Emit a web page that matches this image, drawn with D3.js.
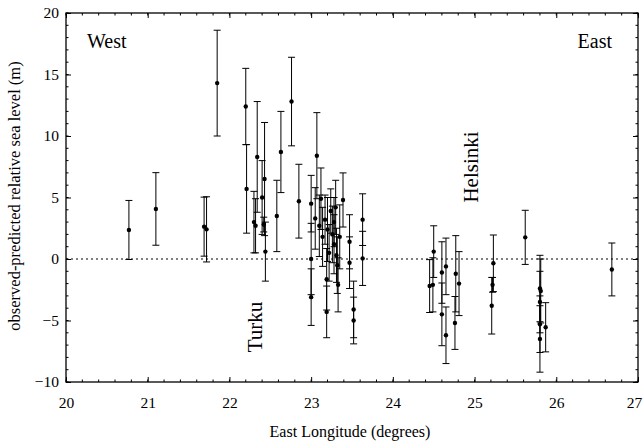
<!DOCTYPE html>
<html>
<head>
<meta charset="utf-8">
<script src="https://cdn.jsdelivr.net/npm/d3@7"></script>
<style>
    body { margin: 0; background: #fff; }
    text { font-family: 'Liberation Serif', 'Times New Roman', serif; fill: #000; }
</style>
</head>
<body>
<svg width="643" height="445"></svg>
<script>
// station longitude (deg E), residual (m), half error bar (m)
var lon = [20.77, 21.1, 21.69, 21.72, 21.85,
    22.2, 22.21, 22.3, 22.32, 22.34, 22.4, 22.42, 22.43, 22.44, 22.58, 22.63, 22.76, 22.85,
    23.0, 23.0, 23.0, 23.05, 23.07, 23.1, 23.12, 23.14, 23.17, 23.19, 23.19, 23.2, 23.22, 23.24,
    23.26, 23.28, 23.28, 23.3, 23.31, 23.32, 23.33, 23.35, 23.39, 23.47, 23.47, 23.52, 23.52, 23.63, 23.63,
    24.45, 24.49, 24.5, 24.6, 24.6, 24.65, 24.65, 24.76, 24.77, 24.81,
    25.21, 25.22, 25.23, 25.62, 25.8, 25.81, 25.8, 25.8, 25.8, 25.87, 26.68]
var resid = [2.36, 4.07, 2.63, 2.41, 14.3,
    12.4, 5.7, 3.0, 2.7, 8.3, 5.0, 2.8, 6.5, 0.6, 3.5, 8.7, 12.8, 4.7,
    4.5, 0.0, -3.1, 3.3, 8.4, 2.7, 4.9, 1.8, 3.2, -1.65, -4.3, 2.4, 0.5, 3.9,
    2.0, 1.2, 3.0, 4.2, 0.3, -0.5, -2.1, 1.8, 4.8, 1.4, -0.3, -4.1, -5.0, 3.2, 0.05,
    -2.2, -2.1, 0.6, -1.1, -4.5, -0.6, -6.2, -5.2, -1.2, -2.0,
    -3.8, -2.1, -0.35, 1.76, -2.4, -2.6, -3.5, -5.3, -6.5, -5.55, -0.85]
var err = [2.4, 2.95, 2.4, 2.65, 4.3,
    3.1, 3.6, 2.5, 2.2, 4.5, 3.0, 0.6, 4.6, 2.4, 2.9, 3.3, 3.6, 3.0,
    2.3, 2.9, 2.3, 2.5, 3.5, 2.5, 2.5, 2.4, 2.0, 2.5, 2.1, 2.6, 2.3, 1.8,
    2.3, 2.4, 2.0, 2.2, 2.2, 2.3, 2.2, 2.6, 2.2, 2.2, 2.1, 2.3, 1.9, 2.1, 2.2,
    2.15, 2.2, 2.1, 2.5, 2.55, 2.3, 2.3, 2.15, 3.1, 2.6,
    2.3, 0.6, 2.3, 2.2, 2.7, 2.6, 2.5, 2.3, 2.7, 2.0, 2.15]
var xTicks = [20, 21, 22, 23, 24, 25, 26, 27]
var yTicks = [-10, -5, 0, 5, 10, 15, 20]

var dataset = lon.map(function(d, i) {
    return { lon: d, y: resid[i], e: err[i] }
})

var svg = d3.select('svg'),
    marginLeft = 66, marginTop = 13,
    width = 572, height = 369

var xScale = d3.scaleLinear().domain([20, 27]).range([0, width])
var yScale = d3.scaleLinear().domain([-10, 20]).range([height, 0])

var g = svg.append('g')
    .attr('transform', 'translate(' + marginLeft + ',' + marginTop + ')')

// minor ticks, inward on all four sides
var xMinor = d3.range(20, 27.001, 0.2)
var yMinor = d3.range(-10, 20.001, 1)
g.append('g').selectAll('line').data(xMinor).enter().append('line')
    .attr('x1', d => xScale(d)).attr('x2', d => xScale(d))
    .attr('y1', height).attr('y2', height - 2.5)
    .style('stroke', '#000')
g.append('g').selectAll('line').data(xMinor).enter().append('line')
    .attr('x1', d => xScale(d)).attr('x2', d => xScale(d))
    .attr('y1', 0).attr('y2', 2.5)
    .style('stroke', '#000')
g.append('g').selectAll('line').data(yMinor).enter().append('line')
    .attr('y1', d => yScale(d)).attr('y2', d => yScale(d))
    .attr('x1', 0).attr('x2', 2.5)
    .style('stroke', '#000')
g.append('g').selectAll('line').data(yMinor).enter().append('line')
    .attr('y1', d => yScale(d)).attr('y2', d => yScale(d))
    .attr('x1', width).attr('x2', width - 2.5)
    .style('stroke', '#000')

// axes
var xAxis = g.append('g')
    .attr('transform', 'translate(0,' + height + ')')
    .call(d3.axisBottom(xScale).tickValues(xTicks).tickSize(-5).tickPadding(15).tickFormat(d3.format('d')))
g.append('g')
    .call(d3.axisLeft(yScale).tickValues(yTicks).tickSize(-5).tickPadding(7).tickFormat(d3.format('d')))
g.append('g')
    .call(d3.axisTop(xScale).tickValues(xTicks).tickSize(-5).tickFormat(''))
g.append('g')
    .attr('transform', 'translate(' + width + ',0)')
    .call(d3.axisRight(yScale).tickValues(yTicks).tickSize(-5).tickFormat(''))
g.selectAll('.domain').remove()
g.selectAll('.tick text')
    .style('font-family', "'Liberation Serif', serif")
    .style('font-size', '15.5px')
    .style('fill', '#000')
// keep the last label inside the window
xAxis.selectAll('.tick text').filter(d => d == 27).attr('dx', -4)

g.append('rect')
    .attr('width', width).attr('height', height)
    .style('fill', 'none').style('stroke', '#000').style('stroke-width', 1.3)

// zero line
g.append('line')
    .attr('x1', 0).attr('x2', width)
    .attr('y1', yScale(0)).attr('y2', yScale(0))
    .style('stroke', '#000').style('stroke-dasharray', '2,3')

// error bars
var bars = g.append('g')
bars.selectAll('.bar').data(dataset).enter().append('line')
    .attr('x1', d => xScale(d.lon)).attr('x2', d => xScale(d.lon))
    .attr('y1', d => yScale(d.y - d.e)).attr('y2', d => yScale(d.y + d.e))
    .style('stroke', '#000')
bars.selectAll('.capTop').data(dataset).enter().append('line')
    .attr('x1', d => xScale(d.lon) - 3.5).attr('x2', d => xScale(d.lon) + 3.5)
    .attr('y1', d => yScale(d.y + d.e)).attr('y2', d => yScale(d.y + d.e))
    .style('stroke', '#000')
bars.selectAll('.capBot').data(dataset).enter().append('line')
    .attr('x1', d => xScale(d.lon) - 3.5).attr('x2', d => xScale(d.lon) + 3.5)
    .attr('y1', d => yScale(d.y - d.e)).attr('y2', d => yScale(d.y - d.e))
    .style('stroke', '#000')
bars.selectAll('circle').data(dataset).enter().append('circle')
    .attr('cx', d => xScale(d.lon))
    .attr('cy', d => yScale(d.y))
    .attr('r', 2.2)
    .style('fill', '#000')

// labels inside the plot
g.append('text').attr('x', 21).attr('y', 35).style('font-size', '20px').text('West')
g.append('text').attr('x', width - 26).attr('y', 35).attr('text-anchor', 'end').style('font-size', '20px').text('East')
svg.append('text')
    .attr('text-anchor', 'middle')
    .attr('transform', 'translate(262,327)rotate(-90)')
    .style('font-size', '21px')
    .text('Turku')
svg.append('text')
    .attr('text-anchor', 'middle')
    .attr('transform', 'translate(478,167)rotate(-90)')
    .style('font-size', '21px')
    .text('Helsinki')

// axis titles
svg.append('text')
    .attr('x', marginLeft + width / 2 - 2)
    .attr('y', 437)
    .attr('text-anchor', 'middle')
    .style('font-size', '16px')
    .text('East Longitude (degrees)')
svg.append('text')
    .attr('text-anchor', 'middle')
    .attr('transform', 'translate(20,' + 196 + ')rotate(-90)')
    .style('font-size', '16.5px')
    .text('observed-predicted relative sea level (m)')
</script>
</body>
</html>
